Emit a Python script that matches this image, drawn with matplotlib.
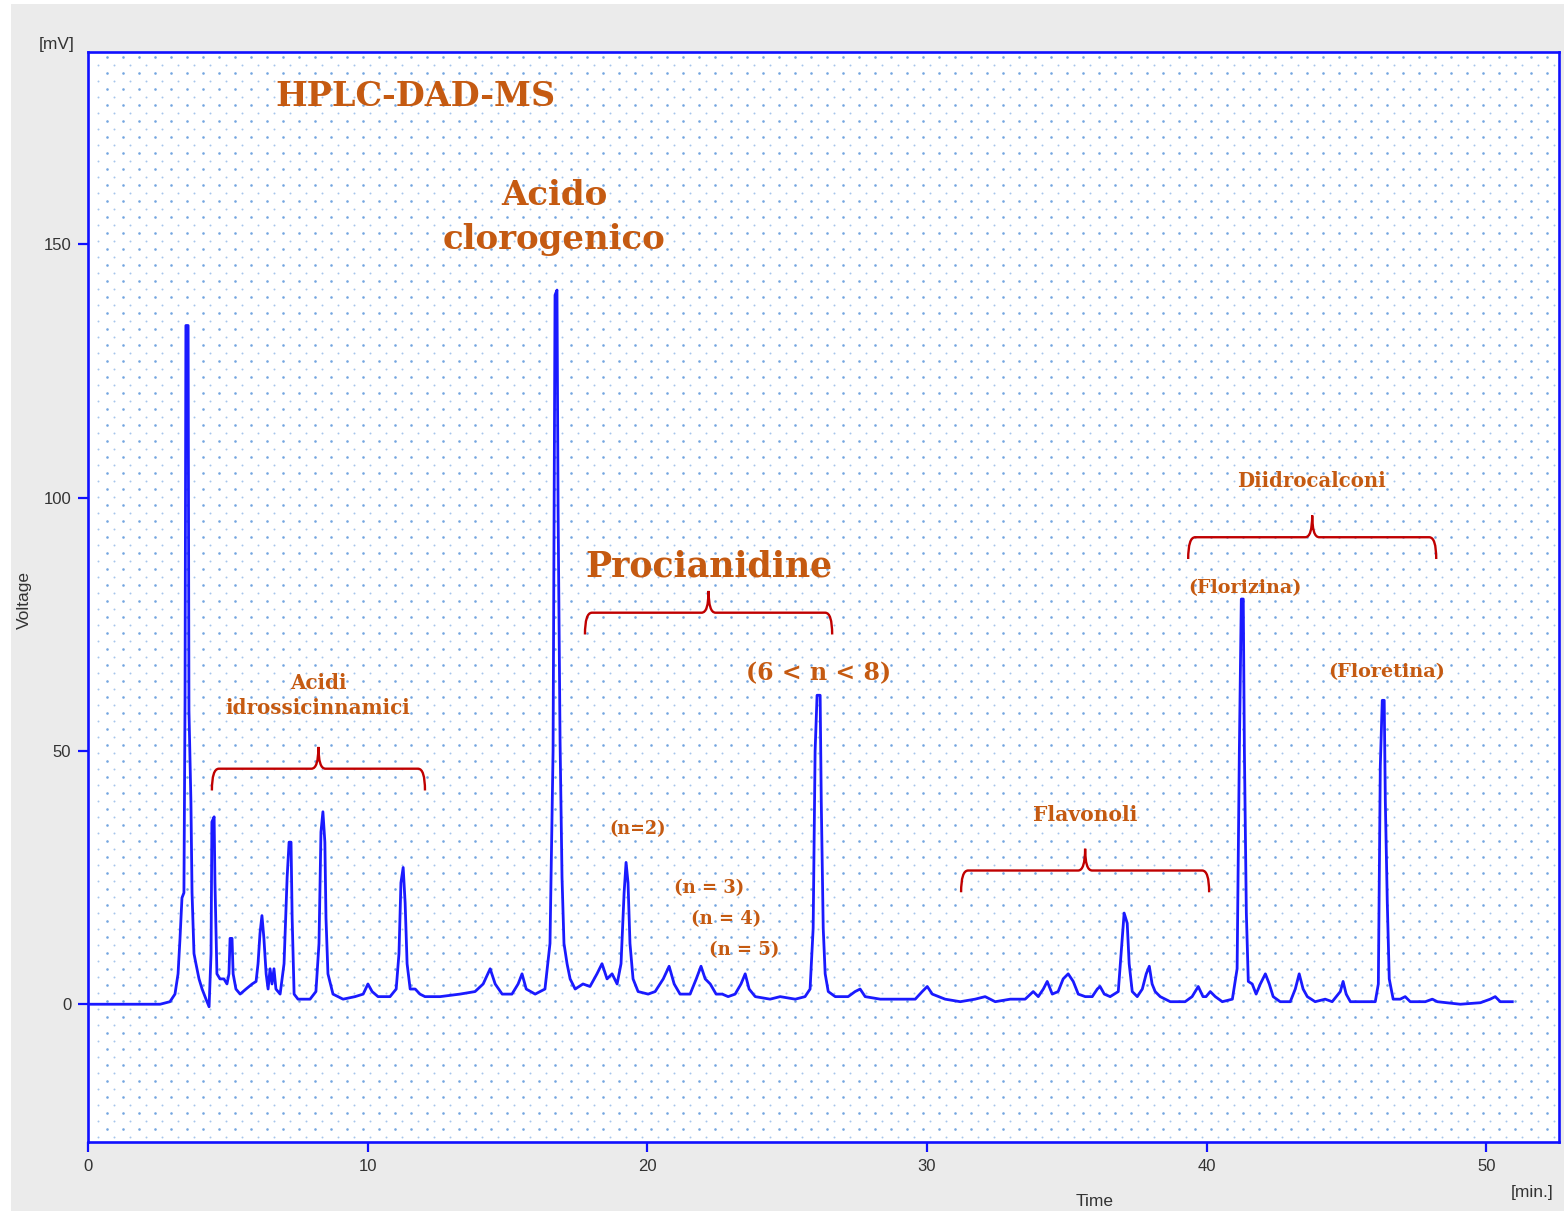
import numpy as np
import matplotlib
matplotlib.use('Agg')
import matplotlib.pyplot as plt
from matplotlib.path import Path
from matplotlib.patches import PathPatch, Rectangle

# ============================================================
# DATA (time [min], signal [mV])
# ============================================================
time_min = [
    0.00, 2.04, 2.58, 2.93, 3.11, 3.22, 3.29, 3.36, 3.43, 3.47, 3.50, 3.58, 3.61, 3.68, 3.72, 3.79,
    3.86, 3.97, 4.08, 4.22, 4.33, 4.40, 4.43, 4.51, 4.54, 4.61, 4.72, 4.86, 4.97, 5.04, 5.08, 5.15,
    5.19, 5.29, 5.44, 5.65, 5.87, 6.01, 6.08, 6.15, 6.22, 6.29, 6.37, 6.44, 6.51, 6.58, 6.65, 6.72,
    6.87, 7.01, 7.12, 7.19, 7.26, 7.30, 7.37, 7.51, 7.94, 8.15, 8.26, 8.33, 8.40, 8.47, 8.51, 8.58,
    8.76, 9.12, 9.55, 9.84, 10.01, 10.16, 10.37, 10.80, 11.02, 11.12, 11.19, 11.27, 11.34, 11.41,
    11.52, 11.70, 11.87, 12.05, 12.59, 13.30, 13.84, 14.13, 14.38, 14.56, 14.81, 15.16, 15.38,
    15.52, 15.67, 15.99, 16.34, 16.52, 16.63, 16.70, 16.77, 16.81, 16.88, 16.95, 17.02, 17.13,
    17.24, 17.42, 17.70, 17.95, 18.20, 18.38, 18.56, 18.74, 18.92, 19.06, 19.17, 19.24, 19.31,
    19.38, 19.49, 19.67, 20.03, 20.28, 20.57, 20.78, 20.96, 21.17, 21.53, 21.75, 21.92, 22.07,
    22.25, 22.46, 22.68, 22.89, 23.14, 23.35, 23.50, 23.64, 23.86, 24.39, 24.75, 25.29, 25.64,
    25.82, 25.93, 26.00, 26.07, 26.18, 26.22, 26.29, 26.36, 26.47, 26.72, 27.18, 27.43, 27.61,
    27.79, 28.33, 29.04, 29.58, 29.83, 30.01, 30.19, 30.65, 31.19, 31.72, 32.08, 32.44, 32.98,
    33.51, 33.80, 33.98, 34.16, 34.30, 34.48, 34.69, 34.87, 35.05, 35.23, 35.41, 35.66, 35.91,
    36.09, 36.19, 36.34, 36.55, 36.84, 36.94, 37.05, 37.16, 37.23, 37.34, 37.52, 37.70, 37.84,
    37.95, 38.05, 38.16, 38.34, 38.70, 39.23, 39.48, 39.70, 39.87, 39.98, 40.13, 40.31, 40.56,
    40.92, 41.09, 41.17, 41.24, 41.31, 41.35, 41.42, 41.49, 41.63, 41.77, 41.92, 42.10, 42.24,
    42.38, 42.63, 42.99, 43.17, 43.31, 43.45, 43.60, 43.88, 44.24, 44.49, 44.78, 44.88, 44.99,
    45.14, 45.67, 46.03, 46.14, 46.21, 46.28, 46.35, 46.39, 46.46, 46.53, 46.67, 46.92, 47.10,
    47.28, 47.82, 48.07, 48.25, 49.07, 49.79, 50.14, 50.32, 50.50, 50.93,
]
signal_mv = [
    0.0, 0.0, 0.0, 0.5, 2.0, 6.0, 13.0, 21.0, 22.0, 60.0, 134.0, 134.0, 58.0, 40.0, 22.0, 10.0,
    8.0, 5.0, 3.0, 1.0, -0.5, 10.0, 36.0, 37.0, 24.0, 6.0, 5.0, 5.0, 4.0, 6.0, 13.0, 13.0,
    6.0, 3.0, 2.0, 3.0, 4.0, 4.5, 8.0, 14.0, 17.5, 13.0, 6.0, 3.0, 7.0, 4.0, 7.0, 3.0,
    2.0, 8.0, 25.0, 32.0, 32.0, 17.0, 2.0, 1.0, 1.0, 2.5, 12.0, 34.0, 38.0, 32.0, 17.0, 6.0,
    2.0, 1.0, 1.5, 2.0, 4.0, 2.5, 1.5, 1.5, 3.0, 10.0, 24.0, 27.0, 20.0, 8.0,
    3.0, 3.0, 2.0, 1.5, 1.5, 2.0, 2.5, 4.0, 7.0, 4.0, 2.0, 2.0, 4.0,
    6.0, 3.0, 2.0, 3.0, 12.0, 50.0, 140.0, 141.0, 97.0, 52.0, 25.0, 12.0, 8.0,
    5.0, 3.0, 4.0, 3.5, 6.0, 8.0, 5.0, 6.0, 4.0, 8.0, 22.0, 28.0, 24.0,
    12.0, 5.0, 2.5, 2.0, 2.5, 5.0, 7.5, 4.0, 2.0, 2.0, 5.0, 7.5, 5.0,
    4.0, 2.0, 2.0, 1.5, 2.0, 4.0, 6.0, 3.0, 1.5, 1.0, 1.5, 1.0, 1.5,
    3.0, 15.0, 50.0, 61.0, 61.0, 40.0, 15.0, 6.0, 2.5, 1.5, 1.5, 2.5, 3.0,
    1.5, 1.0, 1.0, 1.0, 2.5, 3.5, 2.0, 1.0, 0.5, 1.0, 1.5, 0.5, 1.0,
    1.0, 2.5, 1.5, 3.0, 4.5, 2.0, 2.5, 5.0, 6.0, 4.5, 2.0, 1.5, 1.5,
    3.0, 3.5, 2.0, 1.5, 2.5, 10.0, 18.0, 16.0, 8.0, 2.5, 1.5, 3.0, 6.0,
    7.5, 4.0, 2.5, 1.5, 0.5, 0.5, 1.5, 3.5, 1.5, 1.5, 2.5, 1.5, 0.5,
    1.0, 7.0, 50.0, 80.0, 80.0, 50.0, 18.0, 4.5, 4.0, 2.0, 4.0, 6.0, 4.0,
    1.5, 0.5, 0.5, 3.0, 6.0, 3.0, 1.5, 0.5, 1.0, 0.5, 2.5, 4.5, 2.0,
    0.5, 0.5, 0.5, 4.0, 47.0, 60.0, 60.0, 40.0, 20.0, 5.0, 1.0, 1.0, 1.5,
    0.5, 0.5, 1.0, 0.5, 0.0, 0.3, 1.0, 1.5, 0.5, 0.5,
]

x_ticks = [0, 10, 20, 30, 40, 50]
y_ticks = [0, 50, 100, 150]

# group braces: (start, end, level) in data units
braces = [
    (4.43, 12.05, 46.5),    # Acidi idrossicinnamici
    (17.77, 26.61, 77.3),   # Procianidine
    (31.22, 40.09, 26.4),   # Flavonoli
    (39.34, 48.21, 92.2),   # Diidrocalconi
]

# labels: (text, x, y, fontsize)
labels = [
    ('HPLC-DAD-MS', 11.7, 179.2, 24),
    ('Acido', 16.67, 159.7, 24.5),
    ('clorogenico', 16.67, 151.0, 24.5),
    ('Procianidine', 22.2, 86.5, 25),
    ('Acidi', 8.23, 63.5, 14.3),
    ('idrossicinnamici', 8.23, 58.5, 14.3),
    ('(n=2)', 19.64, 34.5, 12.7),
    ('(n = 3)', 22.2, 22.9, 13),
    ('(n = 4)', 22.82, 16.8, 13),
    ('(n = 5)', 23.46, 10.6, 13),
    ('(6 < n < 8)', 26.14, 65.4, 17),
    ('Flavonoli', 35.66, 37.3, 14.6),
    ('Diidrocalconi', 43.74, 103.3, 14.2),
    ('(Florizina)', 41.38, 82.2, 13.8),
    ('(Floretina)', 46.42, 65.6, 13.9),
]

# ============================================================
# FIGURE
# ============================================================
W, H = 1564, 1211
fig = plt.figure(figsize=(W / 100, H / 100), dpi=100, facecolor='white')
fig.patches.append(Rectangle((11 / W, 0), 1, 1 - 4 / H, transform=fig.transFigure,
                             facecolor='#ebebeb', edgecolor='none', zorder=-5))

ax = fig.add_axes([88 / W, 1 - 1142 / H, (1559 - 88) / W, (1142 - 52) / H])
ax.set_zorder(2)
ax.set_facecolor('white')

# dotted background lattice (pixel grid of the instrument software)
px_a, py_a = np.meshgrid(np.arange(106.7, 1560, 16), np.arange(56.7, 1142, 16))
px_b, py_b = np.meshgrid(np.arange(98.3, 1560, 16), np.arange(64.9, 1142, 16))
ax.scatter(px_a.ravel() / W, 1 - py_a.ravel() / H, s=3.5, color='#74a6e0',
           linewidths=0, transform=fig.transFigure, zorder=0)
ax.scatter(px_b.ravel() / W, 1 - py_b.ravel() / H, s=2.0, color='#a6c5ec',
           linewidths=0, transform=fig.transFigure, zorder=0)

ax.plot(time_min, signal_mv, color='#1a1aff', linewidth=2.0, zorder=3)

ax.set_xlim(0, 52.6)
ax.set_ylim(-27.2, 188.0)
ax.set_xticks(x_ticks)
ax.set_yticks(y_ticks)

for s in ax.spines.values():
    s.set_color('#1010ff')
    s.set_linewidth(1.9)
ax.tick_params(colors='#1010ff', length=7, width=1.6, labelcolor='#333333',
               labelsize=12, pad=5)
txt_font = ['Liberation Sans', 'DejaVu Sans']
for lab in ax.get_xticklabels() + ax.get_yticklabels():
    lab.set_family(txt_font)

fig.text(57 / W, 1 - 45 / H, '[mV]', ha='center', va='center', fontsize=12.5,
         color='#333333', family=txt_font)
fig.text(24 / W, 1 - 600 / H, 'Voltage', ha='center', va='center', fontsize=12.5,
         color='#333333', rotation=90, family=txt_font)
fig.text(1095 / W, 1 - 1201 / H, 'Time', ha='center', va='center', fontsize=12.5,
         color='#333333', family=txt_font)
fig.text(1532 / W, 1 - 1193 / H, '[min.]', ha='center', va='center', fontsize=12.5,
         color='#333333', family=txt_font)

# ----- curly braces -----
def draw_brace(ax, x0, x1, y, h=4.3, rx=0.25):
    xc = (x0 + x1) / 2
    verts = [(x0, y - h), (x0, y), (x0 + rx, y),
             (xc - rx, y),
             (xc, y), (xc, y + h),
             (xc, y), (xc + rx, y),
             (x1 - rx, y),
             (x1, y), (x1, y - h)]
    codes = [Path.MOVETO, Path.CURVE3, Path.CURVE3,
             Path.LINETO,
             Path.CURVE3, Path.CURVE3,
             Path.CURVE3, Path.CURVE3,
             Path.LINETO,
             Path.CURVE3, Path.CURVE3]
    ax.add_patch(PathPatch(Path(verts, codes), facecolor='none', edgecolor='#c00000',
                           linewidth=1.7, zorder=4))

for x0, x1, y in braces:
    draw_brace(ax, x0, x1, y)

for text, x, y, fs in labels:
    ax.text(x, y, text, ha='center', va='center', fontsize=fs, fontweight='bold',
            color='#c55a11', family='DejaVu Serif', zorder=5)

fig.savefig('out.png', dpi=100, facecolor=fig.get_facecolor())
